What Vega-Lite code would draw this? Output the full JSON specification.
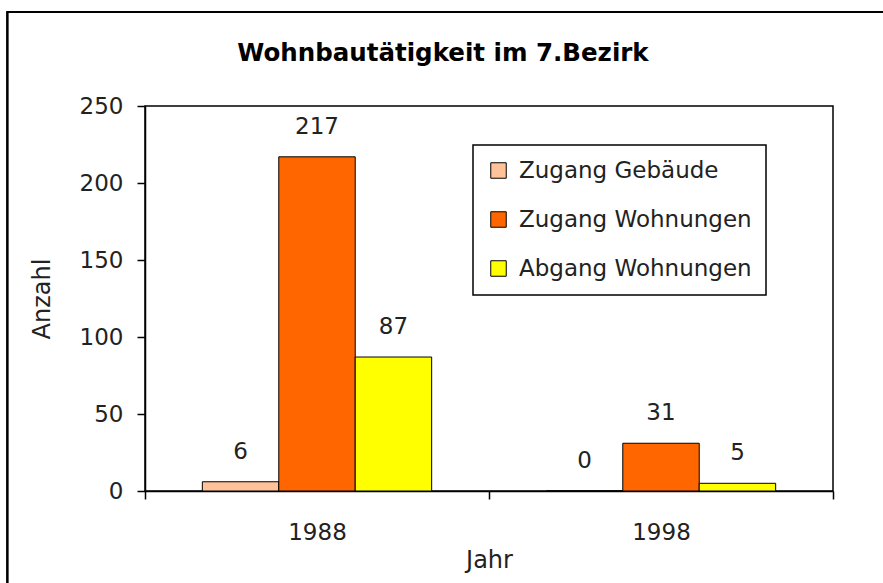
{
  "$schema": "https://vega.github.io/schema/vega-lite/v6.json",
  "width": 688,
  "height": 385,
  "autosize": {"type": "none"},
  "padding": {"left": 145, "top": 106, "right": 50, "bottom": 92},
  "background": "white",
  "title": {
    "text": "Wohnbautätigkeit im 7.Bezirk",
    "anchor": "middle",
    "frame": "group",
    "dx": -46,
    "offset": -55,
    "font": "DejaVu Sans",
    "fontSize": 24.5,
    "fontWeight": "bold",
    "color": "black"
  },
  "data": {
    "values": [
      {"Jahr": "1988", "Kategorie": "Zugang Gebäude", "Anzahl": 6},
      {"Jahr": "1988", "Kategorie": "Zugang Wohnungen", "Anzahl": 217},
      {"Jahr": "1988", "Kategorie": "Abgang Wohnungen", "Anzahl": 87},
      {"Jahr": "1998", "Kategorie": "Zugang Gebäude", "Anzahl": 0},
      {"Jahr": "1998", "Kategorie": "Zugang Wohnungen", "Anzahl": 31},
      {"Jahr": "1998", "Kategorie": "Abgang Wohnungen", "Anzahl": 5}
    ]
  },
  "resolve": {"scale": {"x": "independent", "y": "independent"}, "axis": {"x": "independent", "y": "independent"}},
  "layer": [
    {
      "mark": {"type": "rect", "filled": false, "stroke": "black", "strokeWidth": 1.5, "clip": false},
      "encoding": {
        "x": {"datum": -0.2, "type": "quantitative", "scale": {"domain": [0, 1]}, "axis": null},
        "x2": {"datum": 1.5},
        "y": {"datum": 1.244, "type": "quantitative", "scale": {"domain": [0, 1]}, "axis": null},
        "y2": {"datum": -0.3}
      }
    },
    {
      "layer": [
        {
          "mark": {"type": "bar", "stroke": "black", "strokeWidth": 1},
          "encoding": {
            "x": {
              "field": "Jahr", "type": "nominal",
              "scale": {"paddingInner": 0, "paddingOuter": 0},
              "axis": {"title": "Jahr", "labelAngle": 0, "tickBand": "extent"}
            },
            "xOffset": {
              "field": "Kategorie", "type": "nominal",
              "sort": ["Zugang Gebäude", "Zugang Wohnungen", "Abgang Wohnungen"],
              "scale": {"paddingInner": 0, "paddingOuter": 0.75}
            },
            "y": {
              "field": "Anzahl", "type": "quantitative",
              "scale": {"domain": [0, 250], "nice": false},
              "axis": {"title": "Anzahl", "values": [0, 50, 100, 150, 200, 250]}
            },
            "color": {
              "field": "Kategorie", "type": "nominal",
              "sort": ["Zugang Gebäude", "Zugang Wohnungen", "Abgang Wohnungen"],
              "scale": {
                "domain": ["Zugang Gebäude", "Zugang Wohnungen", "Abgang Wohnungen"],
                "range": ["#FFC299", "#FF6600", "#FFFF00"]
              },
              "legend": {
                "title": null,
                "orient": "none",
                "legendX": 328,
                "legendY": 39
              }
            }
          }
        },
        {
          "mark": {"type": "text", "baseline": "middle", "dy": -30, "font": "DejaVu Sans", "fontSize": 23, "color": "#222"},
          "encoding": {
            "x": {"field": "Jahr", "type": "nominal"},
            "xOffset": {
              "field": "Kategorie", "type": "nominal",
              "sort": ["Zugang Gebäude", "Zugang Wohnungen", "Abgang Wohnungen"]
            },
            "y": {"field": "Anzahl", "type": "quantitative", "scale": {"domain": [0, 250], "nice": false}},
            "text": {"field": "Anzahl", "type": "quantitative"}
          }
        }
      ]
    }
  ],
  "config": {
    "view": {"stroke": "black", "strokeWidth": 1.5},
    "axis": {
      "domainColor": "black",
      "domainWidth": 1.5,
      "tickColor": "black",
      "tickWidth": 1.5,
      "tickSize": 8,
      "labelFont": "DejaVu Sans",
      "labelFontSize": 23,
      "labelColor": "#222",
      "titleFont": "DejaVu Sans",
      "titleFontSize": 24,
      "titleFontWeight": "normal",
      "titleColor": "#222",
      "gridColor": "black",
      "gridWidth": 1.2,
      "gridOpacity": 1
    },
    "axisY": {"labelPadding": 14, "titlePadding": 25, "grid": true},
    "axisX": {"labelPadding": 22, "titlePadding": 4, "grid": false},
    "legend": {
      "fillColor": "white",
      "strokeColor": "black",
      "strokeWidth": 1.5,
      "padding": 14,
      "rowPadding": 25,
      "symbolType": "square",
      "symbolSize": 240,
      "symbolStrokeColor": "black",
      "symbolStrokeWidth": 1,
      "labelFont": "DejaVu Sans",
      "labelFontSize": 23,
      "labelColor": "#222",
      "labelOffset": 9,
      "labelLimit": 400
    }
  }
}
